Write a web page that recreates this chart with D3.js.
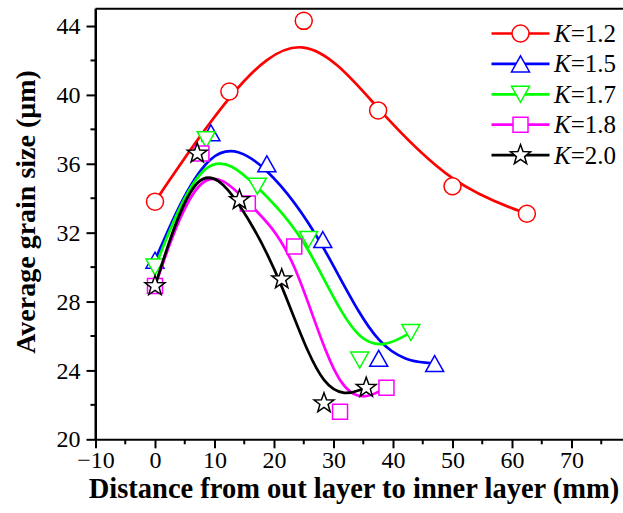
<!DOCTYPE html>
<html>
<head>
<meta charset="utf-8">
<script src="https://cdn.jsdelivr.net/npm/d3@7"></script>
<style>
  body { margin: 0; background: #fff; }
  svg { display: block; }
  text { font-family: "Liberation Serif", "Times New Roman", serif; fill: #000; }
</style>
</head>
<body>
<svg id="chart" width="623" height="513"></svg>
<script>
// Distance from the outer layer (mm) and average grain size (µm) per K value
const distK12 = [0, 12.5, 25, 37.5, 50, 62.5];
const grainK12 = [33.8, 40.2, 44.3, 39.1, 34.7, 33.1];
const distK15 = [0, 9.4, 18.8, 28.2, 37.6, 47.0];
const grainK15 = [30.4, 37.8, 36.0, 31.6, 24.7, 24.4];
const distK17 = [0, 8.6, 17.2, 25.8, 34.4, 43.0];
const grainK17 = [30.0, 37.4, 34.7, 31.6, 24.6, 26.2];
const distK18 = [0, 7.8, 15.6, 23.4, 31.1, 38.9];
const grainK18 = [28.9, 36.6, 33.7, 31.2, 21.6, 23.0];
const distK20 = [0, 7.1, 14.2, 21.3, 28.4, 35.5];
const grainK20 = [28.9, 36.6, 33.9, 29.3, 22.1, 23.0];

const kLabels = ["1.2", "1.5", "1.7", "1.8", "2.0"];
const xTickValues = [-10, 0, 10, 20, 30, 40, 50, 60, 70];
const xMinorValues = [-5, 5, 15, 25, 35, 45, 55, 65, 75];
const yTickValues = [20, 24, 28, 32, 36, 40, 44];
const yMinorValues = [22, 26, 30, 34, 38, 42];

const seriesList = [
  { k: kLabels[0], xs: distK12, ys: grainK12, color: "#ff0000", marker: "circle" },
  { k: kLabels[1], xs: distK15, ys: grainK15, color: "#0000ff", marker: "triangleUp" },
  { k: kLabels[2], xs: distK17, ys: grainK17, color: "#00ff00", marker: "triangleDown" },
  { k: kLabels[3], xs: distK18, ys: grainK18, color: "#ff00ff", marker: "square" },
  { k: kLabels[4], xs: distK20, ys: grainK20, color: "#000000", marker: "star" }
];

const svg = d3.select("#chart");
const plotLeft = 95.5, plotRight = 631, plotTop = 8.8, plotBottom = 439.3;
const serif = '"Liberation Serif", "Times New Roman", serif';

const x = d3.scaleLinear().domain([-10, 80]).range([plotLeft, plotRight]);
const y = d3.scaleLinear().domain([20, 45]).range([plotBottom, plotTop]);

// marker shapes
function markerPath(type) {
  const p = d3.path();
  if (type === "circle") {
    p.arc(0, 0, 8.5, 0, 2 * Math.PI);
  } else if (type === "triangleUp") {
    p.moveTo(0, -8); p.lineTo(9, 8); p.lineTo(-9, 8); p.closePath();
  } else if (type === "triangleDown") {
    p.moveTo(0, 8); p.lineTo(9, -8); p.lineTo(-9, -8); p.closePath();
  } else if (type === "square") {
    p.rect(-7.5, -7.5, 15, 15);
  } else if (type === "star") {
    const ro = 10.5, ri = 4.3;
    for (let i = 0; i < 10; i++) {
      const r = i % 2 === 0 ? ro : ri;
      const a = -Math.PI / 2 + i * Math.PI / 5;
      const px = r * Math.cos(a), py = r * Math.sin(a);
      if (i === 0) p.moveTo(px, py); else p.lineTo(px, py);
    }
    p.closePath();
  }
  return p.toString();
}

// axes
const axisFont = 24;
const gx = svg.append("g").attr("transform", `translate(0,${plotBottom})`)
  .call(d3.axisBottom(x).tickValues(xTickValues).tickSize(9).tickSizeOuter(0).tickPadding(2.2));
gx.append("g").selectAll("line").data(xMinorValues).join("line")
  .attr("x1", d => x(d)).attr("x2", d => x(d)).attr("y1", 0).attr("y2", 5).attr("stroke", "#000");

const gy = svg.append("g").attr("transform", `translate(${plotLeft},0)`)
  .call(d3.axisLeft(y).tickValues(yTickValues).tickSize(9).tickSizeOuter(0).tickPadding(6));
gy.append("g").selectAll("line").data(yMinorValues).join("line")
  .attr("x1", 0).attr("x2", -5).attr("y1", d => y(d)).attr("y2", d => y(d)).attr("stroke", "#000");

[gx, gy].forEach(g => {
  g.attr("font-family", serif).attr("font-size", axisFont);
  g.selectAll("path.domain").attr("stroke-width", 2);
  g.selectAll("line").attr("stroke-width", 2);
  g.selectAll("text").attr("font-size", axisFont).attr("font-family", serif);
});

// frame lines on the top and left
svg.append("line").attr("x1", plotLeft).attr("x2", plotRight).attr("y1", plotTop).attr("y2", plotTop)
  .attr("stroke", "#000").attr("stroke-width", 2);
svg.append("line").attr("x1", plotLeft).attr("x2", plotLeft).attr("y1", plotTop).attr("y2", plotBottom)
  .attr("stroke", "#000").attr("stroke-width", 2);

// axis titles
svg.append("text")
  .attr("x", 354).attr("y", 498)
  .attr("text-anchor", "middle").attr("font-weight", "bold").attr("font-size", 28.5)
  .attr("font-family", serif)
  .text("Distance from out layer to inner layer (mm)");

svg.append("text")
  .attr("transform", "translate(35,212) rotate(-90)")
  .attr("text-anchor", "middle").attr("font-weight", "bold").attr("font-size", 28)
  .attr("font-family", serif)
  .text("Average grain size (\u03bcm)");

// smoothed curves and markers
const line = d3.line().x(d => x(d[0])).y(d => y(d[1])).curve(d3.curveBasis);

seriesList.forEach(s => {
  const pts = s.xs.map((v, i) => [v, s.ys[i]]);
  const g = svg.append("g");
  g.append("path").datum(pts).attr("d", line)
    .attr("fill", "none").attr("stroke", s.color).attr("stroke-width", 2.7);
  g.selectAll("path.mk").data(pts).join("path").attr("class", "mk")
    .attr("transform", d => `translate(${x(d[0])},${y(d[1])})`)
    .attr("d", markerPath(s.marker))
    .attr("fill", "#fff").attr("stroke", s.color).attr("stroke-width", 1.5);
});

// legend
const legend = svg.append("g");
const legendY0 = 33.5, legendStep = 30.4;
seriesList.forEach((s, i) => {
  const ly = legendY0 + i * legendStep;
  legend.append("line").attr("x1", 491.5).attr("x2", 549.5).attr("y1", ly).attr("y2", ly)
    .attr("stroke", s.color).attr("stroke-width", 2.7);
  legend.append("path").attr("transform", `translate(520.5,${ly})`)
    .attr("d", markerPath(s.marker))
    .attr("fill", "#fff").attr("stroke", s.color).attr("stroke-width", 1.5);
  const t = legend.append("text").attr("x", 554).attr("y", ly + 8.5)
    .attr("font-size", 25).attr("font-family", serif);
  t.append("tspan").attr("font-style", "italic").text("K");
  t.append("tspan").text("=" + s.k);
});
</script>
</body>
</html>
